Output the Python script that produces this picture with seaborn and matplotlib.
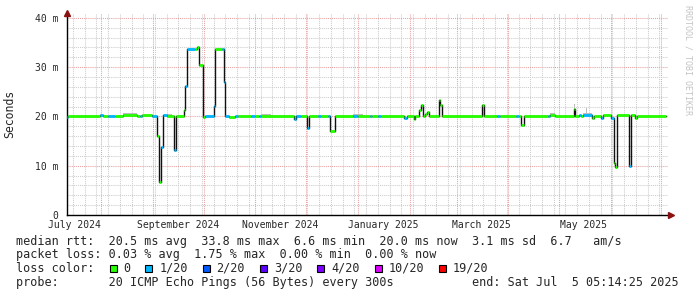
import numpy as np
import pandas as pd
import matplotlib
matplotlib.use("Agg")
import matplotlib.pyplot as plt
import matplotlib.dates as mdates
from matplotlib.patches import Rectangle
from matplotlib.ticker import MultipleLocator, FixedLocator, FixedFormatter, NullFormatter
import seaborn as sns

# ---------------- data ----------------
seg_start = [
    "2024-07-11 12:00", "2024-07-12 00:00", "2024-07-31 00:00", "2024-08-02 00:00",
    "2024-08-05 00:00", "2024-08-09 00:00", "2024-08-14 00:00", "2024-08-22 00:00",
    "2024-08-24 00:00", "2024-08-25 12:00", "2024-08-31 12:00", "2024-09-03 10:00",
    "2024-09-04 17:00", "2024-09-05 10:00", "2024-09-06 14:00", "2024-09-09 00:00",
    "2024-09-13 12:00", "2024-09-14 07:00", "2024-09-19 12:00", "2024-09-20 05:00",
    "2024-09-21 06:00", "2024-09-25 19:00", "2024-09-27 05:00", "2024-09-28 12:00",
    "2024-09-30 10:00", "2024-10-01 19:00", "2024-10-07 05:00", "2024-10-07 23:00",
    "2024-10-11 19:00", "2024-10-13 07:00", "2024-10-13 22:00", "2024-10-16 07:00",
    "2024-10-20 00:00", "2024-10-21 12:00", "2024-10-29 12:00", "2024-10-31 12:00",
    "2024-11-03 00:00", "2024-11-04 12:00", "2024-11-24 02:00", "2024-11-24 22:00",
    "2024-11-28 10:00", "2024-12-01 19:00", "2024-12-02 19:00", "2024-12-08 10:00",
    "2024-12-10 00:00", "2024-12-14 10:00", "2024-12-15 10:00", "2024-12-18 12:00",
    "2024-12-29 00:00", "2025-01-01 00:00", "2025-01-08 05:00", "2025-01-09 12:00",
    "2025-01-13 00:00", "2025-01-15 05:00", "2025-01-28 17:00", "2025-01-30 12:00",
    "2025-02-03 14:00", "2025-02-04 12:00", "2025-02-06 10:00", "2025-02-07 12:00",
    "2025-02-08 17:00", "2025-02-10 00:00", "2025-02-11 10:00", "2025-02-12 14:00",
    "2025-02-18 10:00", "2025-02-19 10:00", "2025-02-20 14:00", "2025-03-16 05:00",
    "2025-03-17 10:00", "2025-03-25 10:00", "2025-03-26 19:00", "2025-04-05 17:00",
    "2025-04-07 05:00", "2025-04-08 17:00", "2025-04-10 12:00", "2025-04-24 10:00",
    "2025-04-26 00:00", "2025-04-28 12:00", "2025-05-09 22:00", "2025-05-10 17:00",
    "2025-05-12 22:00", "2025-05-14 00:00", "2025-05-15 07:00", "2025-05-20 14:00",
    "2025-05-22 05:00", "2025-05-26 00:00", "2025-05-27 05:00", "2025-06-01 10:00",
    "2025-06-02 19:00", "2025-06-03 12:00", "2025-06-05 00:00", "2025-06-11 17:00",
    "2025-06-12 22:00", "2025-06-15 07:00", "2025-06-16 14:00",
]
data_end = "2025-07-03 19:00"

# median rtt in ms
seg_value = [
    19.8, 20.0, 20.2, 20.0,
    20.0, 20.0, 20.2, 20.1,
    20.1, 20.3, 20.0, 16.0,
    6.6, 13.8, 20.2, 20.1,
    13.2, 20.0, 21.3, 26.2,
    33.6, 33.6, 34.0, 30.4,
    19.9, 20.0, 22.1, 33.6,
    33.6, 27.0, 20.0, 19.9,
    20.0, 20.0, 20.1, 20.0,
    20.1, 20.1, 19.4, 20.0,
    20.0, 17.7, 20.0, 20.0,
    20.0, 20.0, 17.0, 20.0,
    20.0, 20.0, 20.0, 20.0,
    20.0, 20.0, 19.6, 20.0,
    19.4, 20.0, 21.4, 22.3,
    20.0, 20.5, 20.9, 20.0,
    23.3, 22.4, 20.0, 22.3,
    20.0, 20.0, 20.0, 20.0,
    20.0, 18.3, 20.0, 20.0,
    20.3, 20.0, 21.5, 20.0,
    20.2, 20.0, 20.2, 19.6,
    20.0, 19.7, 20.3, 19.6,
    10.5, 9.8, 20.3, 9.9,
    20.3, 19.7, 20.0,
]

# packet loss (pings lost out of 20)
seg_loss = [
    1, 0, 1, 0,
    1, 0, 0, 0,
    1, 0, 1, 0,
    0, 1, 1, 0,
    1, 0, 0, 1,
    1, 0, 0, 0,
    0, 1, 1, 0,
    1, 1, 1, 0,
    1, 0, 1, 0,
    1, 0, 1, 1,
    0, 1, 0, 1,
    0, 1, 0, 0,
    1, 0, 1, 0,
    1, 0, 1, 0,
    0, 0, 0, 0,
    0, 0, 0, 0,
    0, 0, 0, 0,
    0, 1, 0, 1,
    0, 0, 0, 1,
    0, 0, 0, 0,
    1, 0, 1, 0,
    0, 1, 0, 1,
    0, 0, 0, 1,
    0, 0, 0,
]

# light grey smoke (spread of pings) above the median
smoke_start = ["2024-08-14 00:00", "2024-09-09 00:00", "2024-11-04 12:00", "2024-12-29 00:00",
               "2025-04-26 00:00", "2025-05-09 22:00", "2025-05-15 07:00", "2025-05-17 00:00"]
smoke_end = ["2024-08-22 00:00", "2024-09-12 00:00", "2024-11-10 00:00", "2025-01-04 00:00",
             "2025-04-29 00:00", "2025-05-10 17:00", "2025-05-20 14:00", "2025-05-17 20:00"]
smoke_low = [20.2, 20.1, 20.1, 20.0, 20.3, 21.5, 20.2, 20.2]
smoke_high = [20.7, 20.6, 20.5, 20.4, 20.7, 22.6, 20.7, 21.8]

loss_levels = [0, 1, 2, 3, 4, 10, 19]
loss_labels = ["0", "1/20", "2/20", "3/20", "4/20", "10/20", "19/20"]
loss_colors = ["#26ff00", "#00b8ff", "#0059ff", "#5e00ff", "#7e00ff", "#dd00ff", "#ff0000"]

y_ticks = [0, 10, 20, 30, 40]
y_tick_labels = ["0", "10 m", "20 m", "30 m", "40 m"]
x_label_dates = ["2024-07-16", "2024-09-16", "2024-11-16", "2025-01-16", "2025-03-16", "2025-05-16"]
x_labels = ["July 2024", "September 2024", "November 2024", "January 2025", "March 2025", "May 2025"]

x_start = "2024-07-11 12:00"
x_end = "2025-07-05 05:14"

stats_lines = [
    "median rtt:  20.5 ms avg  33.8 ms max  6.6 ms min  20.0 ms now  3.1 ms sd  6.7   am/s",
    "packet loss: 0.03 % avg  1.75 % max  0.00 % min  0.00 % now",
]
probe_line = "probe:       20 ICMP Echo Pings (56 Bytes) every 300s           end: Sat Jul  5 05:14:25 2025"

# ---------------- figure ----------------
sns.set_style("white")
W, H = 697, 297
fig = plt.figure(figsize=(W / 100, H / 100), dpi=100)
fig.patch.set_facecolor("white")
ax = fig.add_axes([67 / W, 1 - 215 / H, 601 / W, 202 / H])
ax.set_facecolor("white")

mono = "DejaVu Sans Mono"

starts = pd.to_datetime(seg_start)
ends = pd.to_datetime(seg_start[1:] + [data_end])
vals = np.array(seg_value)

df = pd.DataFrame({
    "t": list(starts) + [pd.Timestamp(data_end)],
    "v": list(vals) + [vals[-1]],
})

ax.set_xlim(pd.Timestamp(x_start), pd.Timestamp(x_end))
ax.set_ylim(0, 41.0)

ax.xaxis.set_major_locator(mdates.MonthLocator())
ax.xaxis.set_minor_locator(mdates.WeekdayLocator(byweekday=mdates.MO))
ax.xaxis.set_major_formatter(NullFormatter())
ax.xaxis.set_minor_formatter(NullFormatter())
ax.yaxis.set_major_locator(FixedLocator(y_ticks))
ax.yaxis.set_major_formatter(FixedFormatter(y_tick_labels))
ax.yaxis.set_minor_locator(MultipleLocator(2))

ax.grid(which="minor", color="#cccccc", linestyle=(0, (1, 1)), linewidth=0.75)
ax.grid(which="major", color="#eaa0a0", linestyle=(0, (1, 1)), linewidth=0.75)
ax.set_axisbelow(True)

ax.tick_params(which="both", length=0)
ax.tick_params(axis="y", pad=6, labelsize=7)
for lab in ax.get_yticklabels():
    lab.set_fontfamily(mono)

# smoke
for s, e, lo, hi in zip(smoke_start, smoke_end, smoke_low, smoke_high):
    ax.fill_between(pd.to_datetime([s, e]), [lo, lo], [hi, hi], color="#bdbdbd",
                    linewidth=0, zorder=2)

# black median step line
sns.lineplot(data=df, x="t", y="v", ax=ax, color="#111111", linewidth=1.0,
             drawstyle="steps-post", estimator=None, sort=False, zorder=3)

# coloured segments by loss
col_map = dict(zip(loss_levels, loss_colors))
seg_cols = [col_map[l] for l in seg_loss]
ax.hlines(vals, starts.to_numpy(), ends.to_numpy(), colors=seg_cols,
          linewidth=2.0, zorder=4)

ax.set_xlabel("")
ax.set_ylabel("Seconds", fontfamily=mono, fontsize=8.3)
ax.yaxis.set_label_coords(-(67 - 16) / 601, 0.5)

for s in ["top", "right"]:
    ax.spines[s].set_visible(False)
for s in ["left", "bottom"]:
    ax.spines[s].set_color("black")
    ax.spines[s].set_linewidth(1.0)

# x labels centred mid-month
for d, lab in zip(x_label_dates, x_labels):
    ax.text(pd.Timestamp(d), -10 / 202, lab, transform=ax.get_xaxis_transform(),
            ha="center", va="center", fontsize=7, fontfamily=mono)

# axis arrows
arrow_col = "#8b1010"
ax.plot([0], [1.0], marker="^", markersize=4, color=arrow_col, transform=ax.transAxes,
        clip_on=False, zorder=6)
ax.plot([1.005], [0.0], marker=">", markersize=4, color=arrow_col, transform=ax.transAxes,
        clip_on=False, zorder=6)

# right-hand vertical credit
fig.text(688 / W, 1 - 60 / H, "RRDTOOL / TOBI OETIKER", rotation=270, color="#c4c4c4",
         fontsize=6, fontfamily=mono, ha="center", va="center")

# legend / stats text
cw = 7.12
fs = 8.5
for i, line in enumerate(stats_lines):
    fig.text(16 / W, 1 - (241 + i * 13.7) / H, line, fontfamily=mono, fontsize=fs,
             va="center", ha="left")

yl = 268.3
fig.text(16 / W, 1 - yl / H, "loss color:", fontfamily=mono, fontsize=fs, va="center", ha="left")
sx = 109.5
for lab, c in zip(loss_labels, loss_colors):
    fig.add_artist(Rectangle((sx / W, 1 - (yl + 4) / H), 7 / W, 7 / H, transform=fig.transFigure,
                             facecolor=c, edgecolor="black", linewidth=0.8))
    fig.text((sx + 13.8) / W, 1 - yl / H, lab, fontfamily=mono, fontsize=fs, va="center", ha="left")
    sx = sx + 13.8 + len(lab) * cw + 15.0

fig.text(16 / W, 1 - 282.3 / H, probe_line, fontfamily=mono, fontsize=fs, va="center", ha="left")

fig.savefig("out.png", dpi=100, facecolor="white")
